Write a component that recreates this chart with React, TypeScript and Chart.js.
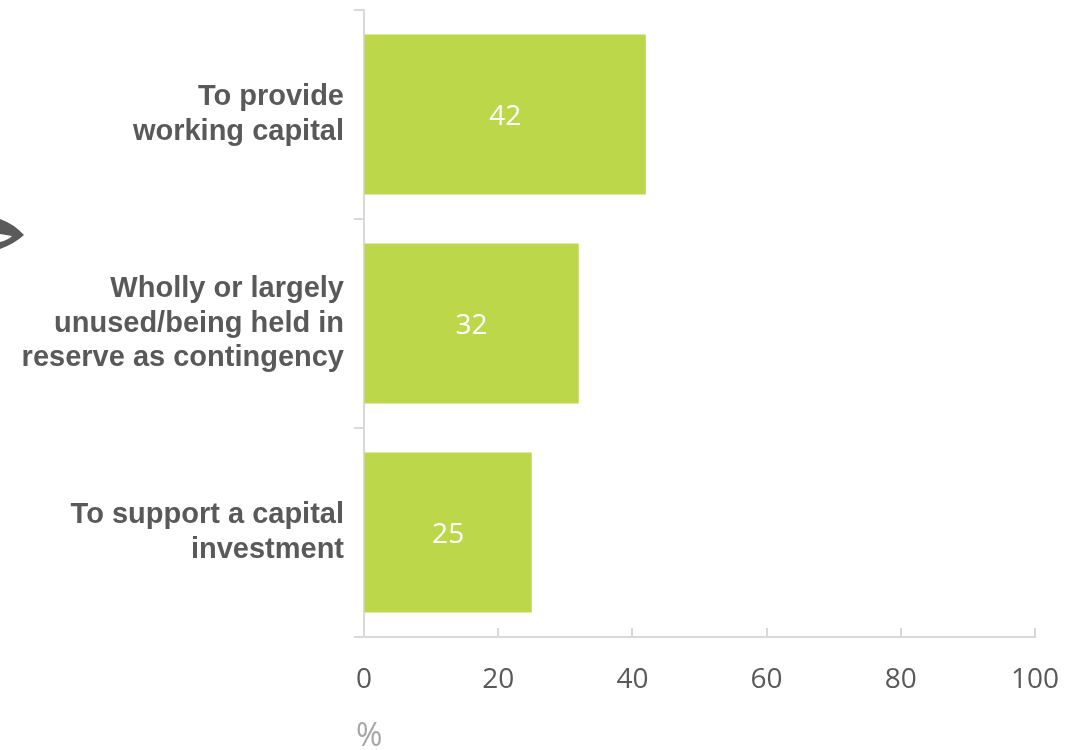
import React, { useEffect, useRef } from 'react';
import { Chart, registerables } from 'chart.js';
Chart.register(...registerables);

const categories: string[][] = [
  ['To provide', 'working capital'],
  ['Wholly or largely', 'unused/being held in', 'reserve as contingency'],
  ['To support a capital', 'investment'],
];
const values: number[] = [42, 32, 25];
const xMin = 0;
const xMax = 100;
const xStep = 20;
const xTitle = '%';

const BAR_COLOR = '#BDD74A';
const AXIS_COLOR = '#D9D9D9';
const TEXT_COLOR = '#595959';

const dataLabels = {
  id: 'dataLabels',
  afterDatasetsDraw(chart: any) {
    const ctx = chart.ctx;
    const meta = chart.getDatasetMeta(0);
    ctx.save();
    ctx.fillStyle = '#FFFFFF';
    ctx.font = '28px "Open Sans"';
    ctx.textAlign = 'center';
    ctx.textBaseline = 'middle';
    meta.data.forEach((bar: any, i: number) => {
      const v = chart.data.datasets[0].data[i];
      ctx.fillText(String(v), (bar.base + bar.x) / 2, bar.y + 3);
    });
    ctx.restore();
  },
};

const extras = {
  id: 'extras',
  afterDraw(chart: any) {
    const ctx = chart.ctx;
    const xs = chart.scales.x;
    const bottom = chart.chartArea.bottom;
    ctx.save();
    ctx.strokeStyle = AXIS_COLOR;
    ctx.lineWidth = 2;
    xs.ticks.forEach((t: any) => {
      if (t.value === xMin) return;
      const px = Math.round(xs.getPixelForValue(t.value));
      ctx.beginPath();
      ctx.moveTo(px, bottom - 9);
      ctx.lineTo(px, bottom);
      ctx.stroke();
    });
    // axis unit label
    ctx.fillStyle = '#A6A6A6';
    ctx.font = '32px "Open Sans"';
    ctx.textAlign = 'left';
    ctx.textBaseline = 'middle';
    ctx.fillText(xTitle, chart.chartArea.left - 8, 737);
    // decorative arrow tip at far left
    ctx.fillStyle = '#5A5A5A';
    ctx.beginPath();
    ctx.moveTo(0, 219);
    ctx.quadraticCurveTo(14, 224, 24, 235);
    ctx.quadraticCurveTo(14, 244, 0, 249);
    ctx.lineTo(0, 242);
    ctx.quadraticCurveTo(8, 240, 12, 236);
    ctx.lineTo(0, 234);
    ctx.closePath();
    ctx.fill();
    ctx.restore();
  },
};

export default function App() {
  const ref = useRef<HTMLCanvasElement | null>(null);
  useEffect(() => {
    if (!ref.current) return;
    const chart = new Chart(ref.current, {
      type: 'bar',
      data: {
        labels: categories,
        datasets: [
          {
            data: values,
            backgroundColor: BAR_COLOR,
            barPercentage: 0.766,
            categoryPercentage: 1,
          },
        ],
      },
      options: {
        indexAxis: 'y',
        responsive: false,
        animation: false,
        layout: { padding: { top: 10, right: 32, left: 0, bottom: 0 } },
        plugins: { legend: { display: false }, tooltip: { enabled: false } },
        scales: {
          x: {
            min: xMin,
            max: xMax,
            ticks: {
              stepSize: xStep,
              color: TEXT_COLOR,
              font: { family: '"Open Sans"', size: 28 },
              padding: 26,
            },
            grid: { drawOnChartArea: false, drawTicks: false },
            border: { color: AXIS_COLOR, width: 2 },
            afterFit(scale: any) {
              scale.height = 113;
              scale.paddingLeft = 0;
              scale.paddingRight = 0;
            },
          },
          y: {
            ticks: {
              color: TEXT_COLOR,
              font: { family: '"Liberation Sans", Arial', size: 29, weight: 'bold', lineHeight: 1.2 },
              padding: 10,
            },
            grid: {
              offset: true,
              drawOnChartArea: false,
              tickLength: 10,
              color: AXIS_COLOR,
              lineWidth: 2,
            },
            border: { color: AXIS_COLOR, width: 2 },
            afterFit(scale: any) {
              scale.width = 364;
              scale.paddingTop = 0;
              scale.paddingBottom = 0;
            },
          },
        },
      } as any,
      plugins: [dataLabels, extras],
    });
    return () => chart.destroy();
  }, []);
  return (
    <div style={{ position: 'absolute', left: 0, top: 0, width: 1067, height: 750, background: '#fff' }}>
      <canvas ref={ref} width={1067} height={750} />
    </div>
  );
}
